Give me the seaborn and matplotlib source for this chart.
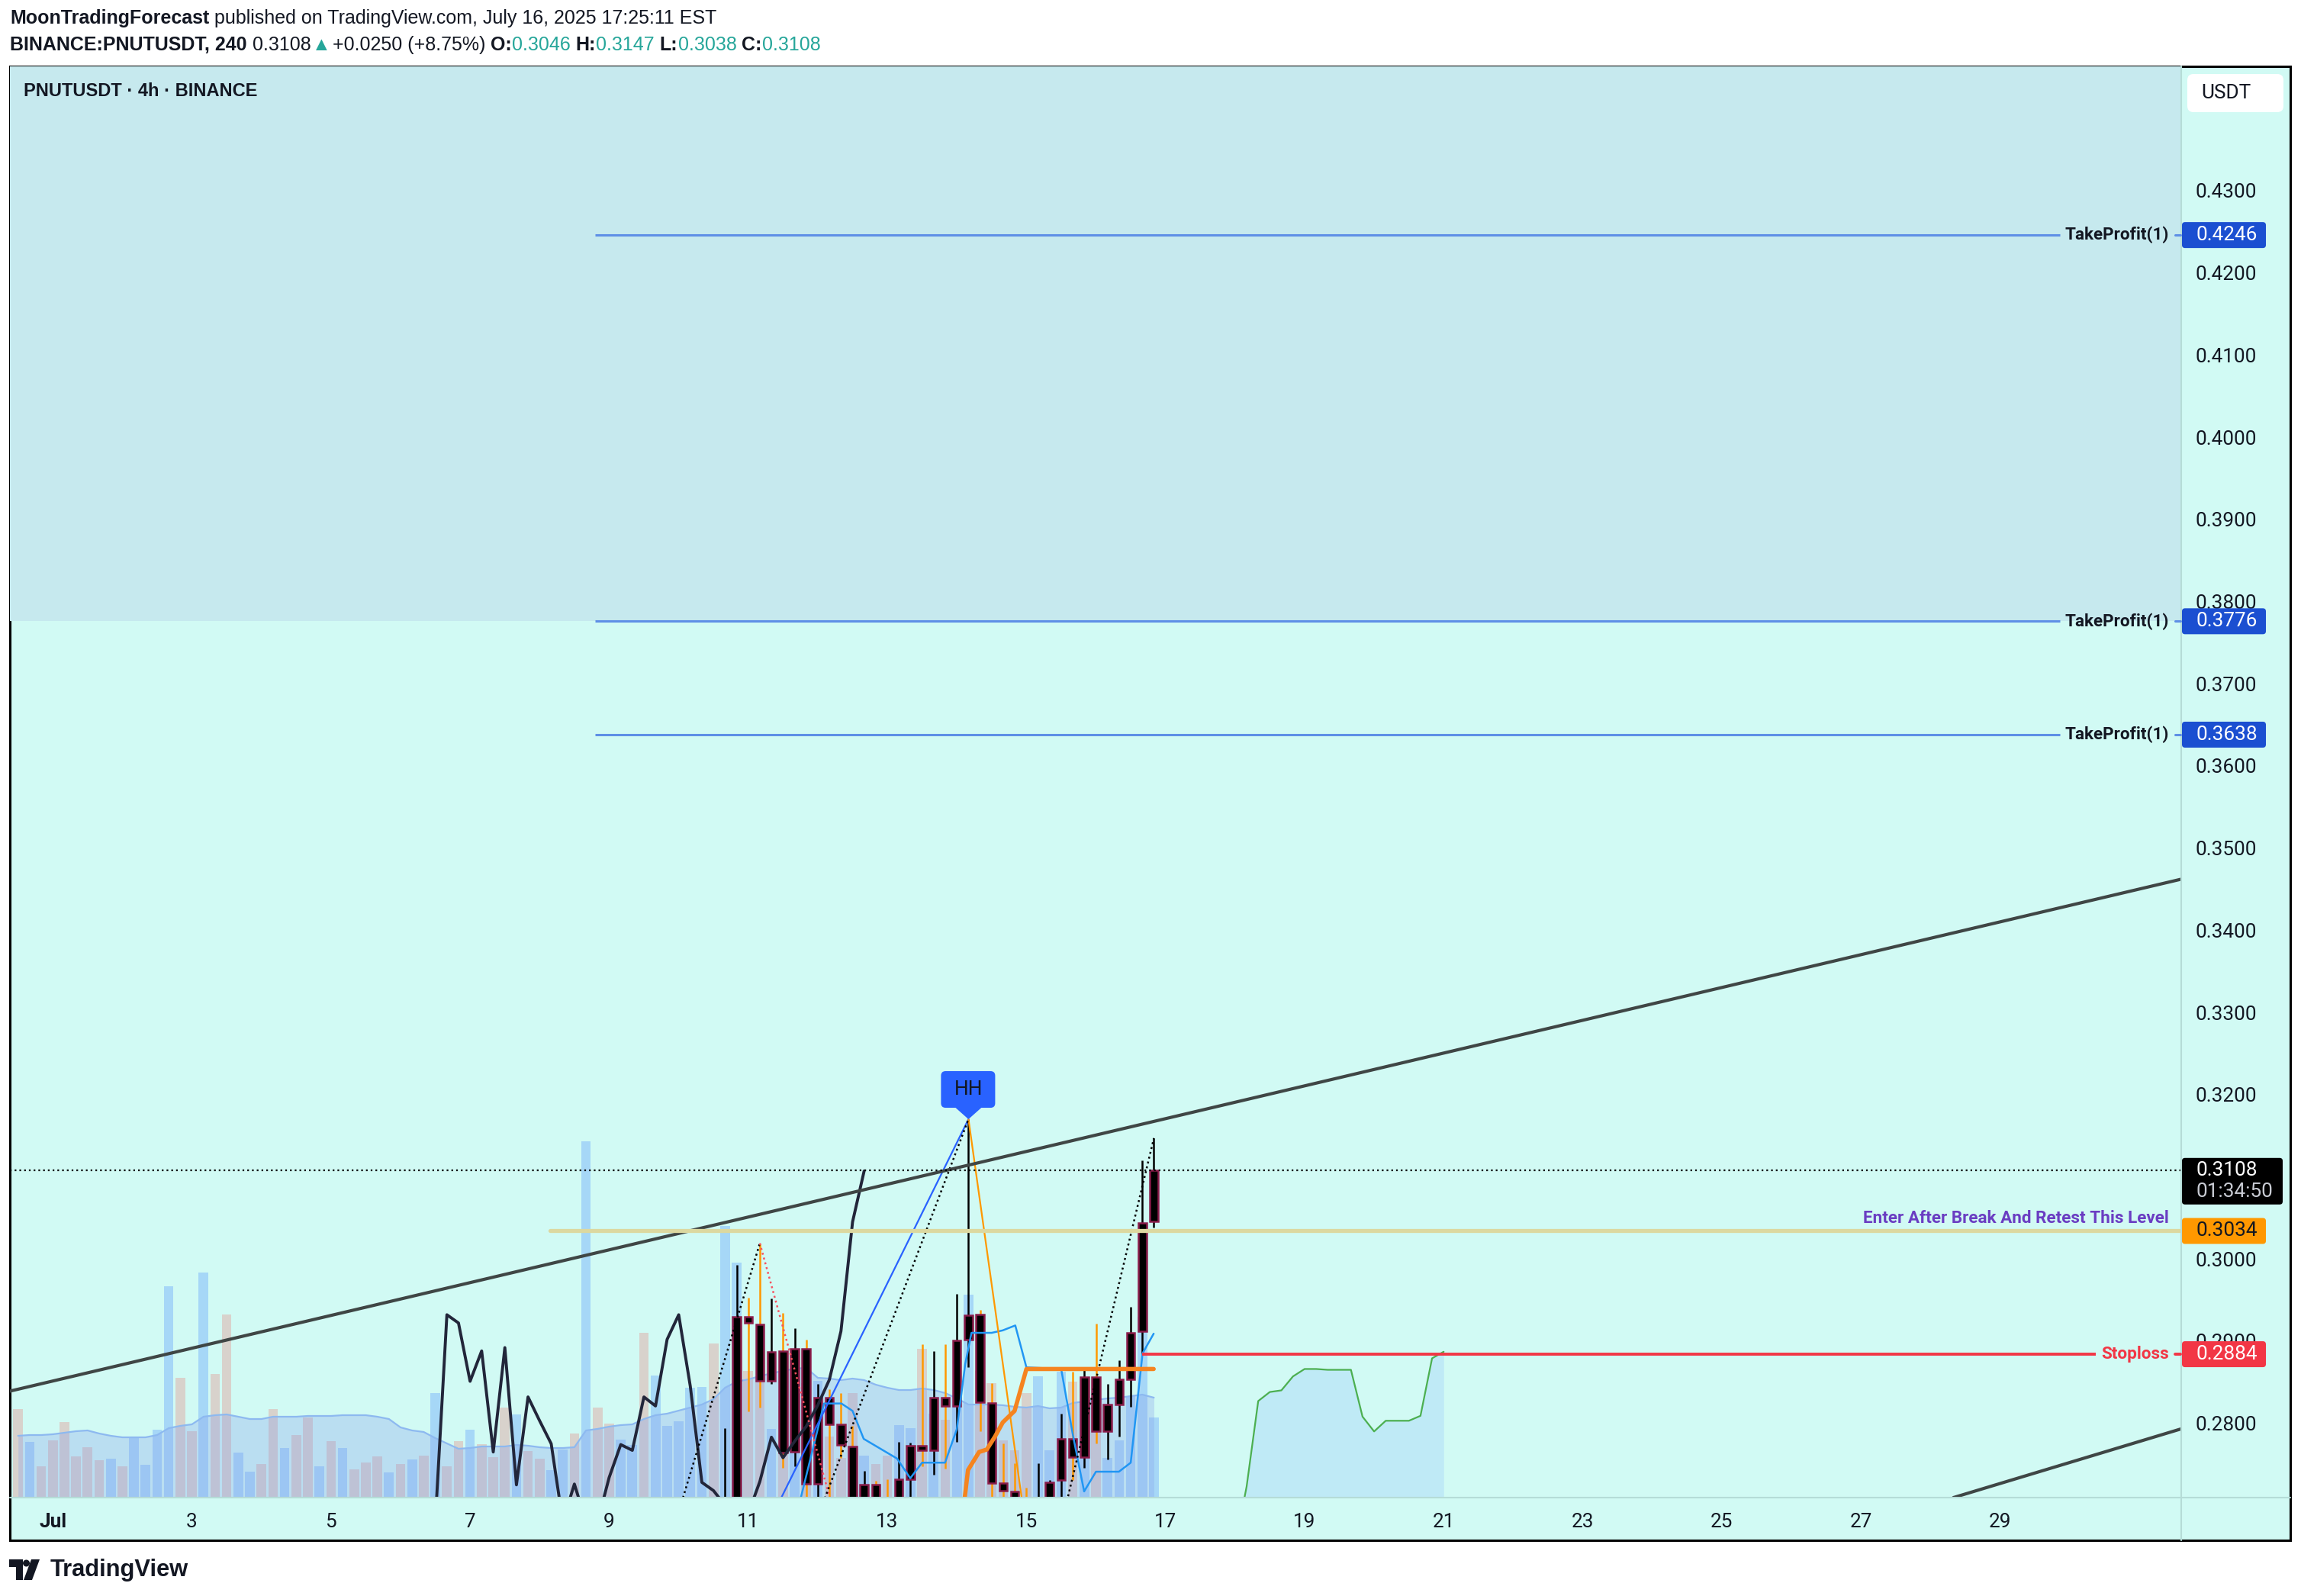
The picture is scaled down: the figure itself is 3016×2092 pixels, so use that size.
"""
plot.py
-------
PNUTUSDT 4h snapshot (TradingView look) rebuilt with seaborn + matplotlib.
Writes out.png at 3016x2092.
"""

import numpy as np
import pandas as pd
import matplotlib
matplotlib.use("Agg")
import matplotlib.pyplot as plt
import seaborn as sns
from matplotlib.patches import FancyBboxPatch, Polygon, Circle


# ------------------------------------------------------------------ data

# visible 4h candles (older bars sit below the price window)
candle_open = [0.2680, 0.2690, 0.2930, 0.2920, 0.2852, 0.2888, 0.2765, 0.2891, 0.2726, 0.2831,
               0.2799, 0.2772, 0.2690, 0.2725, 0.2700, 0.2690, 0.2732, 0.2773, 0.2767, 0.2831,
               0.2821, 0.2902, 0.2932, 0.2825, 0.2727, 0.2717, 0.2700, 0.2690, 0.2690, 0.2731,
               0.2781, 0.2759, 0.2856, 0.2790, 0.2823, 0.2853, 0.2912, 0.3046]
candle_high = [0.2794, 0.2993, 0.2953, 0.3019, 0.2952, 0.2934, 0.2916, 0.2902, 0.2848, 0.2841,
               0.2837, 0.2797, 0.2742, 0.2730, 0.2732, 0.2777, 0.2776, 0.2896, 0.2888, 0.2896,
               0.2957, 0.3170, 0.2938, 0.2849, 0.2775, 0.2751, 0.2722, 0.2751, 0.2731, 0.2812,
               0.2863, 0.2868, 0.2921, 0.2848, 0.2877, 0.2942, 0.3120, 0.3147]
candle_low = [0.2670, 0.2680, 0.2814, 0.2819, 0.2848, 0.2746, 0.2748, 0.2690, 0.2690, 0.2690,
              0.2758, 0.2680, 0.2680, 0.2680, 0.2680, 0.2680, 0.2690, 0.2748, 0.2737, 0.2745,
              0.2777, 0.2868, 0.2790, 0.2690, 0.2690, 0.2680, 0.2680, 0.2680, 0.2680, 0.2690,
              0.2731, 0.2746, 0.2775, 0.2756, 0.2784, 0.2820, 0.2884, 0.3038]
candle_close = [0.2700, 0.2930, 0.2922, 0.2852, 0.2887, 0.2764, 0.2891, 0.2726, 0.2831, 0.2799,
                0.2774, 0.2690, 0.2725, 0.2690, 0.2690, 0.2732, 0.2773, 0.2767, 0.2831, 0.2821,
                0.2901, 0.2931, 0.2826, 0.2727, 0.2718, 0.2690, 0.2690, 0.2700, 0.2728, 0.2781,
                0.2759, 0.2856, 0.2790, 0.2823, 0.2853, 0.2910, 0.3044, 0.3108]

# volume overlay (arbitrary units) and its moving average, one per 4h bar
volume = [116, 73, 41, 75, 99, 54, 66, 49, 51, 41,
          80, 43, 89, 277, 157, 87, 295, 162, 240, 59,
          34, 44, 116, 65, 82, 105, 41, 74, 65, 37,
          46, 54, 33, 44, 50, 55, 137, 41, 74, 89,
          70, 53, 118, 109, 61, 51, 36, 63, 84, 467,
          118, 97, 76, 69, 216, 160, 94, 100, 144, 145,
          202, 356, 308, 166, 159, 90, 120, 140, 150, 153,
          80, 52, 137, 55, 44, 55, 95, 91, 195, 110,
          102, 122, 266, 166, 150, 75, 62, 137, 159, 62,
          165, 152, 126, 122, 52, 75, 133, 237, 105]
vol_up = [0, 1, 0, 0, 0, 0, 0, 0, 1, 0,
          1, 1, 1, 1, 0, 0, 1, 0, 0, 1,
          1, 0, 0, 1, 0, 0, 1, 0, 1, 0,
          0, 0, 1, 0, 1, 0, 1, 0, 0, 1,
          0, 0, 0, 1, 0, 0, 1, 1, 0, 1,
          0, 0, 1, 1, 0, 1, 1, 1, 1, 1,
          0, 1, 1, 0, 0, 1, 0, 1, 0, 1,
          0, 0, 0, 1, 0, 0, 1, 1, 0, 1,
          0, 1, 1, 0, 0, 0, 0, 0, 1, 1,
          1, 0, 1, 0, 1, 1, 1, 1, 1]
vol_ma = [81, 82, 82, 83, 85, 87, 88, 84, 81, 79,
          79, 79, 82, 91, 94, 96, 106, 108, 109, 106,
          103, 103, 106, 106, 106, 107, 107, 107, 108, 108,
          108, 106, 103, 92, 88, 86, 78, 71, 64, 65,
          67, 67, 67, 69, 68, 66, 65, 65, 66, 88,
          90, 93, 95, 96, 103, 108, 110, 114, 118, 122,
          129, 144, 152, 155, 159, 163, 166, 169, 170, 157,
          156, 154, 156, 154, 148, 144, 141, 141, 143, 141,
          137, 130, 122, 122, 122, 121, 119, 118, 120, 117,
          118, 124, 126, 128, 130, 131, 133, 135, 131]

# dark oscillating indicator line (4h steps)
osc_line = [0.2680, 0.2932, 0.2922, 0.2851, 0.2888, 0.2765, 0.2892, 0.2725, 0.2832, 0.2803,
            0.2775, 0.2680, 0.2726, 0.2680, 0.2680, 0.2734, 0.2774, 0.2767, 0.2832, 0.2821,
            0.2902, 0.2932, 0.2845, 0.2728, 0.2718, 0.2700, 0.2680, 0.2690, 0.2729, 0.2783,
            0.2758, 0.2778, 0.2796, 0.2822, 0.2853, 0.2912, 0.3045, 0.3107]

# projected path with shaded area (4h steps)
forecast = [0.2650, 0.2723, 0.2827, 0.2838, 0.2840, 0.2857, 0.2866, 0.2866, 0.2865, 0.2865,
            0.2865, 0.2808, 0.2790, 0.2803, 0.2803, 0.2803, 0.2809, 0.2879, 0.2887]

# thin blue signal line
sig_day = [11.70, 12.09, 12.34, 12.50, 12.66, 13.14, 13.33, 13.50, 13.83, 14.00, 14.12, 14.21,
           14.50, 14.66, 14.84, 15.00, 15.50, 15.67, 15.83, 16.00, 16.33, 16.50, 16.67, 16.83]
sig_price = [0.2690, 0.2824, 0.2824, 0.2815, 0.2781, 0.2757, 0.2733, 0.2752, 0.2752, 0.2793,
             0.2872, 0.2910, 0.2910, 0.2913, 0.2919, 0.2868, 0.2866, 0.2785, 0.2717, 0.2741,
             0.2741, 0.2752, 0.2885, 0.2909]

# thick orange trailing line
trail_day = [14.10, 14.16, 14.32, 14.43, 14.55, 14.66, 14.83, 15.00, 15.16, 16.83]
trail_price = [0.2700, 0.2743, 0.2765, 0.2768, 0.2784, 0.2801, 0.2815, 0.2866, 0.2866, 0.2866]

# zigzag legs around the HH pivot
zz_day = [11.333, 14.167, 15.000]
zz_price = [0.2685, 0.3170, 0.2668]

# dotted pivot connectors
dot_a_day, dot_a_price = [10.000, 11.167], [0.2692, 0.3019]
dot_red_day, dot_red_price = [11.167, 12.333], [0.3019, 0.2660]
dot_b_day, dot_b_price = [12.000, 14.167], [0.2686, 0.3170]
dot_c_day, dot_c_price = [15.500, 16.833], [0.2676, 0.3147]

# channel trend lines (two anchor points each)
trend_hi_day, trend_hi_price = [0.38, 31.6], [0.2839, 0.3462]
trend_lo_day, trend_lo_price = [28.35, 31.6], [0.2710, 0.2793]

# trade levels
tp_levels = [0.4246, 0.3776, 0.3638]
entry_level = 0.3034
stop_level = 0.2884
tp_from, entry_from, stop_from = 8.8, 8.15, 16.667

tick_days = [1, 3, 5, 7, 9, 11, 13, 15, 17, 19, 21, 23, 25, 27, 29]
tick_labels = ["Jul", "3", "5", "7", "9", "11", "13", "15", "17", "19", "21", "23", "25", "27", "29"]
price_ticks = [0.28, 0.29, 0.30, 0.31, 0.32, 0.33, 0.34, 0.35,
               0.36, 0.37, 0.38, 0.39, 0.40, 0.41, 0.42, 0.43]


def day_of_july(ts):
    return (ts - pd.Timestamp("2025-07-01")) / pd.Timedelta(days=1) + 1


candle_day = day_of_july(pd.date_range("2025-07-10 16:00", periods=len(candle_open), freq="4h"))
vol_day = day_of_july(pd.date_range("2025-06-30 12:00", periods=len(volume), freq="4h"))
osc_day = day_of_july(pd.date_range("2025-07-06 12:00", periods=len(osc_line), freq="4h"))
fc_day = day_of_july(pd.date_range("2025-07-18 00:00", periods=len(forecast), freq="4h"))

# ------------------------------------------------------------------ layout

W, H, DPI = 3016, 2092, 200
MINT = "#D1FAF4"
ZONE = "#C6E9EE"
INK = "#131722"
SEP = "#B5DCD7"
TP_BLUE = "#5E8FE6"
RED = "#F23645"
HDR = ["Liberation Sans", "DejaVu Sans"]

FL, FR, FT, FB = 13, 3002, 87, 2019      # outer frame (px from top-left)
PL, PR, PT, PB = 13, 2859, 87, 1963      # price pane
XMIN, XMAX = 0.383, 31.606
YMIN, YMAX = 0.27095, 0.44513

sns.set_theme(style="white")
plt.rcParams["font.family"] = ["Roboto", "DejaVu Sans"]

fig = plt.figure(figsize=(W / DPI, H / DPI), dpi=DPI)
fig.patch.set_facecolor("white")


def rect(l, t, r, b):
    return [l / W, 1 - b / H, (r - l) / W, (b - t) / H]


def px(day):
    return PL + (day - XMIN) / (XMAX - XMIN) * (PR - PL)


def day_at(x):
    return XMIN + (x - PL) / (PR - PL) * (XMAX - XMIN)


def py(price):
    return PT + (YMAX - price) / (YMAX - YMIN) * (PB - PT)


frame = fig.add_axes(rect(FL, FT, FR, FB))
frame.set_facecolor(MINT)
frame.set_xticks([])
frame.set_yticks([])
for s in frame.spines.values():
    s.set_color("black")
    s.set_linewidth(1.1)
frame.set_zorder(0)

# volume pane under the price pane
ax_v = fig.add_axes(rect(PL, PT, PR, PB))
ax_v.set_zorder(1)
ax_v.patch.set_visible(False)
ax_v.axis("off")
vol_colors = ["#A6D7F7" if u else "#D8D2CC" for u in vol_up]
ax_v.bar(vol_day, volume, width=0.139, color=vol_colors, linewidth=0)
ax_v.fill_between(vol_day, vol_ma, 0, color="#85A0ED", alpha=0.3, linewidth=0)
sns.lineplot(x=vol_day, y=vol_ma, ax=ax_v, color="#8DB9F0", linewidth=0.8,
             estimator=None, sort=False)
ax_v.set_xlim(XMIN, XMAX)
ax_v.set_ylim(0, PB - PT)

# price pane
ax = fig.add_axes(rect(PL, PT, PR, PB))
ax.set_zorder(2)
ax.patch.set_visible(False)
for s in ax.spines.values():
    s.set_visible(False)

ax.axhspan(tp_levels[1], YMAX, color=ZONE, lw=0, zorder=0)

ax.fill_between(fc_day, forecast, YMIN, color="#BFEAF6", lw=0, zorder=1)
sns.lineplot(x=fc_day, y=forecast, ax=ax, color="#4CAF50", linewidth=0.8,
             estimator=None, sort=False, zorder=1.5)

# candles
o = np.array(candle_open)
c = np.array(candle_close)
wick_colors = np.where(c >= o, "black", "#FF9800")
ax.vlines(candle_day, candle_low, candle_high, colors=wick_colors, lw=0.9, zorder=3)
ax.bar(candle_day, np.abs(c - o), bottom=np.minimum(o, c), width=0.115,
       color="black", edgecolor="#8A1C4A", linewidth=0.9, zorder=3.2)

# indicator lines
line_kw = dict(ax=ax, estimator=None, sort=False)
sns.lineplot(x=osc_day, y=osc_line, color="#22263A", linewidth=1.4, zorder=4, **line_kw)
sns.lineplot(x=sig_day, y=sig_price, color="#2196F3", linewidth=0.9, zorder=4, **line_kw)
sns.lineplot(x=trail_day, y=trail_price, color="#F5841F", linewidth=2.0, zorder=4.1, **line_kw)
sns.lineplot(x=zz_day[:2], y=zz_price[:2], color="#2962FF", linewidth=0.8, zorder=4, **line_kw)
sns.lineplot(x=zz_day[1:], y=zz_price[1:], color="#FF9800", linewidth=0.8, zorder=4, **line_kw)
dot = (0, (1, 1.6))
sns.lineplot(x=dot_a_day, y=dot_a_price, color="black", linewidth=0.9, linestyle=dot, zorder=4, **line_kw)
sns.lineplot(x=dot_red_day, y=dot_red_price, color="#F7525F", linewidth=0.9, linestyle=dot, zorder=4, **line_kw)
sns.lineplot(x=dot_b_day, y=dot_b_price, color="black", linewidth=0.9, linestyle=dot, zorder=4, **line_kw)
sns.lineplot(x=dot_c_day, y=dot_c_price, color="black", linewidth=0.9, linestyle=dot, zorder=4, **line_kw)

ax.axline((trend_hi_day[0], trend_hi_price[0]), (trend_hi_day[1], trend_hi_price[1]),
          color="#3F4645", lw=1.5, zorder=4.5)
ax.axline((trend_lo_day[0], trend_lo_price[0]), (trend_lo_day[1], trend_lo_price[1]),
          color="#3F4645", lw=1.5, zorder=4.5)

# trade levels
ax.hlines(tp_levels, tp_from, day_at(2700), color=TP_BLUE, lw=1.1, zorder=5)
ax.hlines(entry_level, entry_from, XMAX, color="#DCD8A0", lw=1.9, zorder=4.8, capstyle="round")
ax.hlines(stop_level, stop_from, day_at(2747), color=RED, lw=1.4, zorder=5)
ax.axhline(candle_close[-1], color="black", lw=0.8, ls=(0, (1, 1.8)), zorder=5)

ax.set_xlim(XMIN, XMAX)
ax.set_ylim(YMIN, YMAX)
ax.set_xlabel("")
ax.set_ylabel("")
ax.set_xticks(tick_days)
ax.set_xticklabels(tick_labels)
ax.get_xticklabels()[0].set_fontweight("bold")
ax.yaxis.tick_right()
ax.set_yticks(price_ticks)
# the 0.3100 label sits fully under the last-price tag, as on the reference
ax.set_yticklabels(["" if abs(p - 0.31) < 1e-9 else f"{p:.4f}" for p in price_ticks])
ax.tick_params(axis="both", length=0, labelsize=9.4, colors=INK)
ax.tick_params(axis="x", pad=7.2)
ax.tick_params(axis="y", pad=6.8)
ax.grid(False)

# ------------------------------------------------------------------ overlay in pixels
page = fig.add_axes([0, 0, 1, 1])
page.set_xlim(0, W)
page.set_ylim(H, 0)
page.axis("off")
page.patch.set_visible(False)
page.set_zorder(10)

page.plot([PR, PR], [FT, FB], color=SEP, lw=0.75)
page.plot([FL, FR], [PB, PB], color=SEP, lw=0.75)


def price_tag(yc, label, face, text_color, height=34, width=110):
    page.add_patch(FancyBboxPatch((2860, yc - 17), width, height,
                                  boxstyle="round,pad=0,rounding_size=4",
                                  fc=face, ec="none", zorder=3))
    page.text(2878, yc, label, color=text_color, fontsize=9.4, va="center", ha="left", zorder=4)


for lvl in tp_levels:
    price_tag(py(lvl), f"{lvl:.4f}", "#1B4FD1", "white")
    page.text(2843, py(lvl), "TakeProfit(1)", ha="right", va="center", fontsize=8.1,
              fontweight="bold", color=INK)
    page.plot([2851, 2858], [py(lvl)] * 2, color=TP_BLUE, lw=1.1)

price_tag(py(entry_level), f"{entry_level:.4f}", "#FF9800", INK)
page.text(2843, py(entry_level) - 16, "Enter After Break And Retest This Level", ha="right",
          va="center", fontsize=8.1, fontweight="bold", color="#6A3DC2")

price_tag(py(stop_level), f"{stop_level:.4f}", RED, "white")
page.text(2843, py(stop_level), "Stoploss", ha="right", va="center", fontsize=8.1,
          fontweight="bold", color=RED)
page.plot([2851, 2858], [py(stop_level)] * 2, color=RED, lw=1.4)

# last price + countdown
yl = py(candle_close[-1])
page.add_patch(FancyBboxPatch((2860, yl - 16), 132, 61, boxstyle="round,pad=0,rounding_size=4",
                              fc="black", ec="none", zorder=3))
page.text(2878, yl, f"{candle_close[-1]:.4f}", color="white", fontsize=9.4, va="center", zorder=4)
page.text(2878, yl + 28, "01:34:50", color="#C8CBD3", fontsize=9.4, va="center", zorder=4)

# currency box
page.add_patch(FancyBboxPatch((2867, 97), 126, 50, boxstyle="round,pad=0,rounding_size=8",
                              fc="white", ec="none", zorder=3))
page.text(2885, 122, "USDT", color=INK, fontsize=9.4, va="center", zorder=4)

# HH marker on the highest high
i_hh = int(np.argmax(candle_high))
hx, hy = px(candle_day[i_hh]), py(candle_high[i_hh])
page.add_patch(FancyBboxPatch((hx - 36, hy - 63), 71, 48, boxstyle="round,pad=0,rounding_size=6",
                              fc="#2962FF", ec="none"))
page.add_patch(Polygon([(hx - 18, hy - 16), (hx + 18, hy - 16), (hx, hy)], closed=True,
                       fc="#2962FF", ec="none"))
page.text(hx, hy - 39, "HH", ha="center", va="center", fontsize=9.5, color=INK)

# pane title
page.text(31, 119, "PNUTUSDT · 4h · BINANCE", fontsize=8.5, fontweight="bold",
          family=HDR, color=INK, va="center")

# header lines with mixed weights
renderer = fig.canvas.get_renderer()
TEAL = "#26A69A"


def rich_line(x, y, parts):
    for text, weight, color, gap in parts:
        t = page.text(x, y, text, fontsize=9, fontweight=weight, color=color,
                      family=HDR, va="center", ha="left")
        x = t.get_window_extent(renderer).x1 + gap


SP = 7
rich_line(13, 24, [
    ("MoonTradingForecast", "bold", INK, SP),
    ("published on TradingView.com, July 16, 2025 17:25:11 EST", "normal", INK, 0),
])
rich_line(13, 59, [
    ("BINANCE:PNUTUSDT, 240", "bold", INK, SP),
    (f"{candle_close[-1]:.4f}", "normal", INK, 2),
    ("▲", "normal", TEAL, 2),
    ("+0.0250 (+8.75%)", "normal", INK, SP),
    ("O:", "bold", INK, 0), (f"{candle_open[-1]:.4f}", "normal", TEAL, SP),
    ("H:", "bold", INK, 0), (f"{candle_high[-1]:.4f}", "normal", TEAL, SP),
    ("L:", "bold", INK, 0), (f"{candle_low[-1]:.4f}", "normal", TEAL, SP),
    ("C:", "bold", INK, 0), (f"{candle_close[-1]:.4f}", "normal", TEAL, 0),
])

# footer logo
page.add_patch(Polygon([(12, 2044), (30, 2044), (30, 2071), (21, 2071), (21, 2054), (12, 2054)],
                       closed=True, fc=INK, ec="none"))
page.add_patch(Circle((34.5, 2049), 4.5, fc=INK, ec="none"))
page.add_patch(Polygon([(41, 2044), (52, 2044), (42, 2071), (31, 2071)], closed=True,
                       fc=INK, ec="none"))
page.text(66, 2058, "TradingView", fontsize=11.1, fontweight="bold", family=HDR,
          color=INK, va="center")

fig.savefig("out.png", dpi=DPI, facecolor="white")
plt.close(fig)
